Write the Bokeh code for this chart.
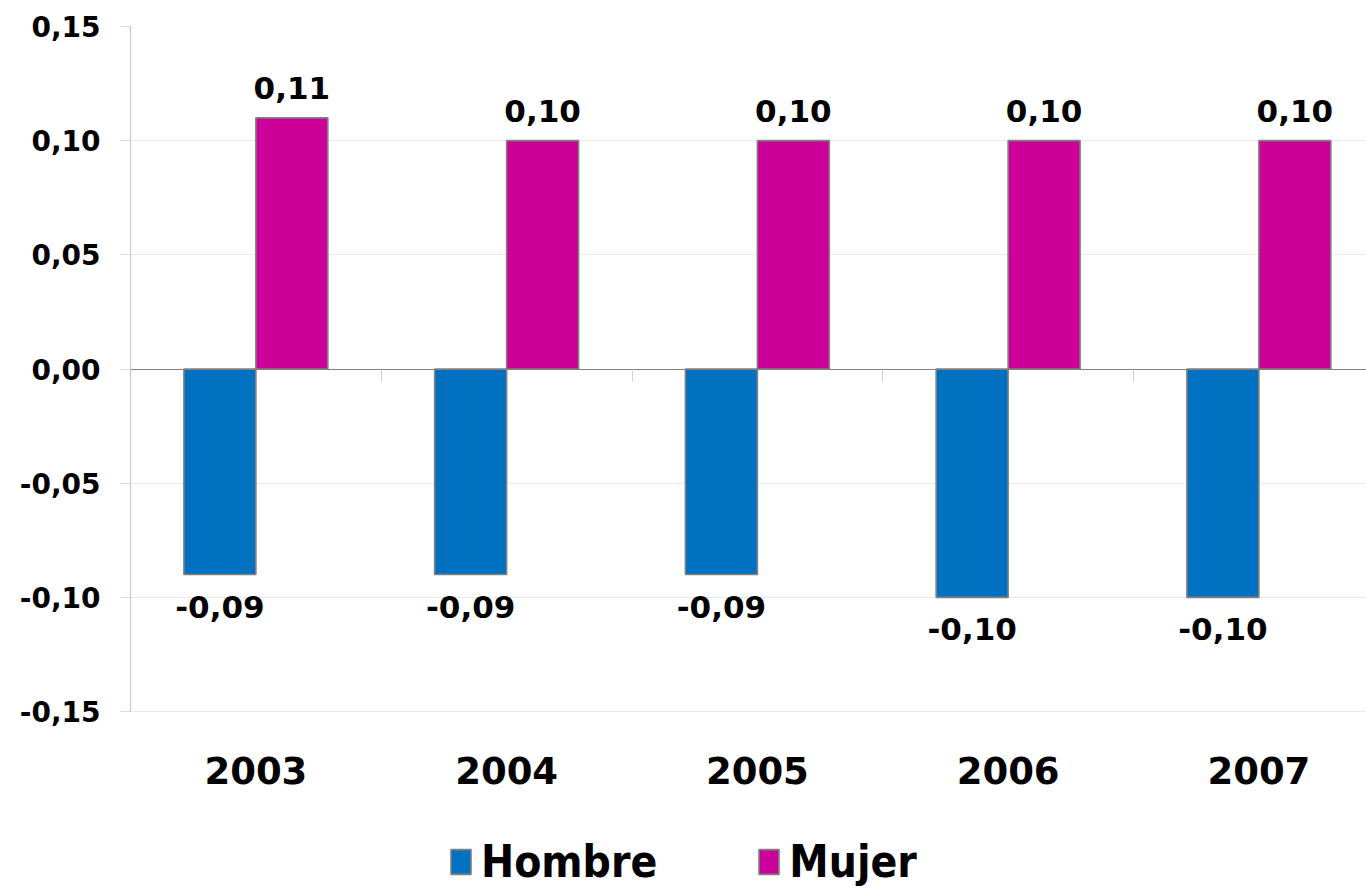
from bokeh.plotting import figure
from bokeh.models import (ColumnDataSource, FixedTicker, Legend, LegendItem,
                          LinearAxis, Range1d)
from bokeh.transform import dodge
from bokeh.core.properties import value
from bokeh.embed import file_html
from bokeh.resources import INLINE

# ---- data ----
years = ["2003", "2004", "2005", "2006", "2007"]
hombre = [-0.09, -0.09, -0.09, -0.10, -0.10]
mujer = [0.11, 0.10, 0.10, 0.10, 0.10]
y_ticks = [-0.15, -0.10, -0.05, 0.0, 0.05, 0.10, 0.15]
y_tick_labels = ["-0,15", "-0,10", "-0,05", "0,00", "0,05", "0,10", "0,15"]

BLUE = "#0070C0"
MAGENTA = "#CC0099"
EDGE = "#808080"
FONT = "DejaVu Sans"

xs = list(range(len(years)))


def fmt(v):
    return f"{v:.2f}".replace(".", ",")


src = ColumnDataSource(dict(
    x=xs, year=years, hombre=hombre, mujer=mujer,
    h_lab=[fmt(v) for v in hombre], m_lab=[fmt(v) for v in mujer],
    base=[y_ticks[0]] * len(xs),
))

W, H = 1366, 888
LEFT, TOP = 130, 26
AXIS_PX = 685            # pixels spanned by the value axis
CAT_PX = 250.75          # pixels per category
y_lo, y_hi = y_ticks[0], y_ticks[-1]
per_px = (y_hi - y_lo) / AXIS_PX
p = figure(width=W, height=H,
           x_range=Range1d(-0.5, -0.5 + (W - LEFT) / CAT_PX),
           y_range=Range1d(y_hi - (H - TOP) * per_px, y_hi),
           x_axis_location=None,
           output_backend="svg", toolbar_location=None,
           min_border_left=LEFT, min_border_right=0,
           min_border_top=TOP, min_border_bottom=0)
p.outline_line_color = None
p.background_fill_color = "white"
p.border_fill_color = "white"

BW = 0.287
rh = p.vbar(x=dodge("x", -BW / 2, range=p.x_range), top="hombre", bottom=0,
            width=BW, source=src, fill_color=BLUE, line_color=EDGE,
            line_width=1.6)
rm = p.vbar(x=dodge("x", BW / 2, range=p.x_range), top="mujer", bottom=0,
            width=BW, source=src, fill_color=MAGENTA, line_color=EDGE,
            line_width=1.6)

p.text(x=dodge("x", -BW / 2, range=p.x_range), y="hombre", text="h_lab",
       source=src, text_font=value(FONT), text_font_style="bold",
       text_font_size="31px", text_align="center",
       text_baseline="alphabetic", y_offset=32, text_color="black")
p.text(x=dodge("x", BW / 2, range=p.x_range), y="mujer", text="m_lab",
       source=src, text_font=value(FONT), text_font_style="bold",
       text_font_size="31px", text_align="center",
       text_baseline="alphabetic", y_offset=-30, text_color="black")

# category labels under the value range
p.text(x="x", y="base", text="year", source=src, text_font=value(FONT),
       text_font_style="bold", text_font_size="37px", text_align="center",
       text_baseline="alphabetic", y_offset=59, text_color="black")

# y axis
p.yaxis.bounds = (y_lo, y_hi)
p.yaxis.ticker = FixedTicker(ticks=y_ticks)
p.yaxis.major_label_overrides = dict(zip(y_ticks, y_tick_labels))
p.yaxis.major_label_text_font = FONT
p.yaxis.major_label_text_font_style = "bold"
p.yaxis.major_label_text_font_size = "28px"
p.yaxis.major_label_text_color = "black"
p.yaxis.major_label_standoff = 20
p.yaxis.major_tick_in = 0
p.yaxis.major_tick_out = 10
p.yaxis.major_tick_line_color = "#d9d9d9"
p.yaxis.minor_tick_line_color = None
p.yaxis.axis_line_color = "#8c8c8c"
p.yaxis.axis_line_dash = "1 1"
p.ygrid.ticker = FixedTicker(ticks=y_ticks)
p.ygrid.grid_line_color = "#ebebeb"
p.xgrid.visible = False

# zero line with category separators (ticks point downward)
seps = [i + 0.5 for i in xs[:-1]]
zero_axis = LinearAxis(fixed_location=0, ticker=FixedTicker(ticks=seps),
                       major_label_overrides={s: "" for s in seps},
                       major_label_text_font_size="0px",
                       axis_line_color=EDGE, major_tick_in=12,
                       major_tick_out=0, major_tick_line_color="#d0d0d0",
                       minor_tick_line_color=None, major_label_standoff=0)
p.add_layout(zero_axis, "above")

legend = Legend(items=[LegendItem(label="Hombre", renderers=[rh]),
                       LegendItem(label="Mujer", renderers=[rm])],
                orientation="horizontal", location=(318, 1),
                glyph_width=25, glyph_height=31, label_standoff=8,
                label_width=170, spacing=99, padding=0, margin=0,
                border_line_color=None, background_fill_alpha=0,
                label_text_font="DejaVu Sans Condensed, sans-serif",
                label_text_font_style="bold", label_text_font_size="44px",
                label_text_color="black")
p.add_layout(legend)

open("out.html", "w").write(file_html(p, INLINE))
